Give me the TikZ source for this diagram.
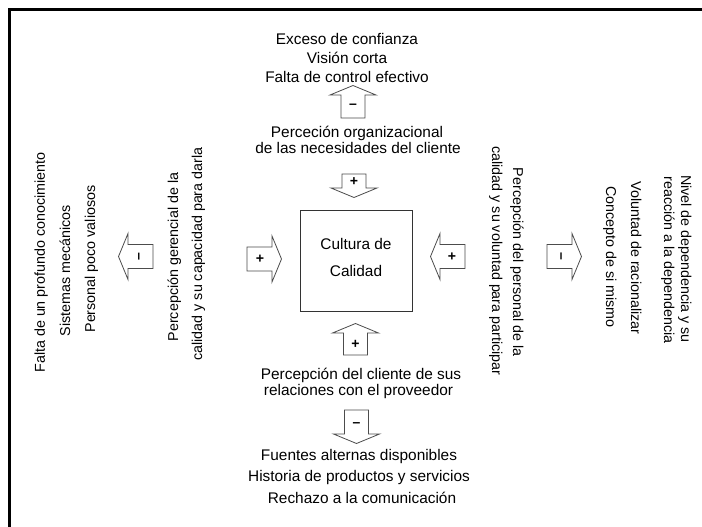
\documentclass[tikz,border=0pt]{standalone}
\usepackage{fontspec}
\setmainfont{Liberation Sans}

\tikzset{
  bloque/.style={draw=black!70, fill=white, line width=0.8pt},
  signo/.style={font=\fontsize{14}{14}\selectfont\bfseries, transform shape, inner sep=0pt},
  texto/.style={anchor=base, inner sep=0pt, font=\fontsize{15.4}{17}\selectfont},
  textov/.style={anchor=base, inner sep=0pt, font=\fontsize{14.3}{16}\selectfont},
  pics/flecha/.style 2 args={code={
    \draw[bloque] (-12,#1/2) -- (-12,-#1/2) -- (-23,-#1/2) -- (0,-#1/2-9.5)
      -- (23,-#1/2) -- (12,-#1/2) -- (12,#1/2) -- cycle;
    \node[signo] (-s) at (0,0) {#2};
  }}
}

\begin{document}
\begin{tikzpicture}[x=1pt,y=-1pt]
\useasboundingbox (0,0) rectangle (702,527);
\fill[white] (0,0) rectangle (702,527);
\draw[black, line width=3pt] (9,527) -- (9,10) -- (702,10);

% centro
\node[draw=black!80, line width=0.8pt, minimum width=112pt, minimum height=101pt] (cultura) at (356,260.5) {};
\node[texto] (cult1) at (356,249) {Cultura de};
\node[texto] (cult2) at (356,276) {Calidad};

% arriba
\node[texto] (arr1) at (347,45) {Exceso de confianza};
\node[texto] (arr2) at (347,63.5) {Visión corta};
\node[texto] (arr3) at (347,82) {Falta de control efectivo};
\pic (aA) at (353,106.5) {flecha={23}{–}};
\node[texto] (org1) at (357,137) {Perceción organizacional};
\node[texto] (org2) at (358,153) {de las necesidades del cliente};
\pic[rotate=180] (aB) at (354,181) {flecha={14}{+}};

% abajo
\pic (aC) at (355.5,344) {flecha={22}{+}};
\node[texto] (cli1) at (361,379) {Percepción del cliente de sus};
\node[texto] (cli2) at (358.5,395) {relaciones con el proveedor};
\pic[rotate=180] (aD) at (356.5,422) {flecha={24}{–}};
\node[texto] (aba1) at (359,460) {Fuentes alternas disponibles};
\node[texto] (aba2) at (359,481.5) {Historia de productos y servicios};
\node[texto] (aba3) at (362,503) {Rechazo a la comunicación};

% izquierda
\node[textov, rotate=90] (izq1) at (45,262.5) {Falta de un profundo conocimiento};
\node[textov, rotate=90] (izq2) at (70,270.5) {Sistemas mecánicos};
\node[textov, rotate=90] (izq3) at (95,259) {Personal poco valiosos};
\pic[rotate=90] (aE) at (140.5,256.5) {flecha={25}{–}};
\node[textov, rotate=90] (ger1) at (178,257) {Percepción gerencial de la};
\node[textov, rotate=90] (ger2) at (202,254) {calidad y su capacidad para darla};
\pic[rotate=-90] (aF) at (259.5,259) {flecha={25}{+}};

% derecha
\pic[rotate=90] (aG) at (452.5,256.5) {flecha={25}{+}};
\node[textov, rotate=-90] (per1) at (513,262) {Percepción del personal de la};
\node[textov, rotate=-90] (per2) at (492,261) {calidad y su voluntad para participar};
\pic[rotate=-90] (aH) at (559.5,256.5) {flecha={25}{–}};
\node[textov, rotate=-90] (der1) at (606,257) {Concepto de si mismo};
\node[textov, rotate=-90] (der2) at (631,258) {Voluntad de racionalizar};
\node[textov, rotate=-90] (der3) at (664,260) {reacción a la dependencia};
\node[textov, rotate=-90] (der4) at (681,259) {Nivel de dependencia y su};
\end{tikzpicture}
\end{document}
